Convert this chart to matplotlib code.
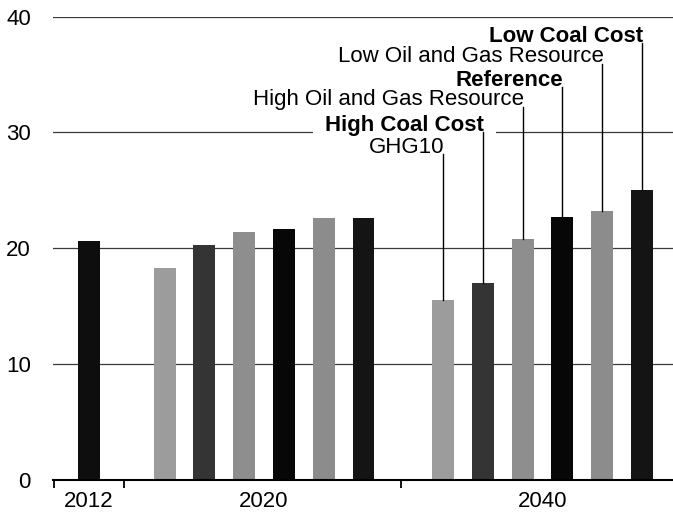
import numpy as np
import matplotlib.pyplot as plt

plt.rcParams["font.family"] = ["Liberation Sans", "DejaVu Sans"]

# data
scenarios = ["GHG10", "High Coal Cost", "High Oil and Gas Resource",
             "Reference", "Low Oil and Gas Resource", "Low Coal Cost"]
bold = [False, True, False, True, False, True]
colors = ["#9c9c9c", "#343434", "#8e8e8e", "#070707", "#8c8c8c", "#141414"]
val_2012 = 20.6
val_2020 = [18.3, 20.3, 21.4, 21.7, 22.6, 22.6]
val_2040 = [15.5, 17.0, 20.8, 22.7, 23.2, 25.0]
year_labels = ["2012", "2020", "2040"]
label_y = [28.1, 30.0, 32.2, 33.9, 35.9, 37.7]

x2012 = 0.0
x2020 = 1.9 + np.arange(6)
x2040 = 8.9 + np.arange(6)
w = 0.55

fig = plt.figure(figsize=(6.73, 5.12), dpi=100)
ax = fig.add_axes([0.079, 0.0625, 0.921, 0.905])

ax.bar(x2012, val_2012, width=w, color="#0e0e0e", zorder=2)
ax.bar(x2020, val_2020, width=w, color=colors, zorder=2)
ax.bar(x2040, val_2040, width=w, color=colors, zorder=2)

# labels with leader lines for the 2040 bars
for xc, v, name, b, ly in zip(x2040, val_2040, scenarios, bold, label_y):
    kw = {"zorder": 4}
    if name == "High Coal Cost":
        # white box breaks the 30 gridline behind this label
        kw = {"zorder": 2.5,
              "bbox": dict(boxstyle="square,pad=0.55", fc="white", ec="none")}
    ax.text(xc + 0.03, ly + 0.15, name, ha="right", va="baseline",
            fontsize=16, fontweight="bold" if b else "normal", **kw)
    ax.plot([xc, xc], [v, ly], color="black", lw=1.0, zorder=5)

ax.set_ylim(0, 40)
ax.set_xlim(-0.9, 14.68)
ax.set_yticks([0, 10, 20, 30, 40])
ax.yaxis.grid(True, color="#3a3a3a", lw=0.9)
ax.set_axisbelow(True)

ax.set_xticks([x2012, x2020.mean(), x2040.mean()])
ax.set_xticklabels(year_labels)
ax.set_xticks([-0.89, 0.87, 7.85], minor=True)
ax.tick_params(axis="x", which="major", length=0, labelsize=16, pad=8)
ax.tick_params(axis="x", which="minor", length=6, width=1.3, direction="out")
ax.tick_params(axis="y", length=0, labelsize=16, pad=16)

for s in ["top", "right", "left"]:
    ax.spines[s].set_visible(False)
ax.spines["bottom"].set_linewidth(1.5)

fig.savefig("out.png", dpi=100)
